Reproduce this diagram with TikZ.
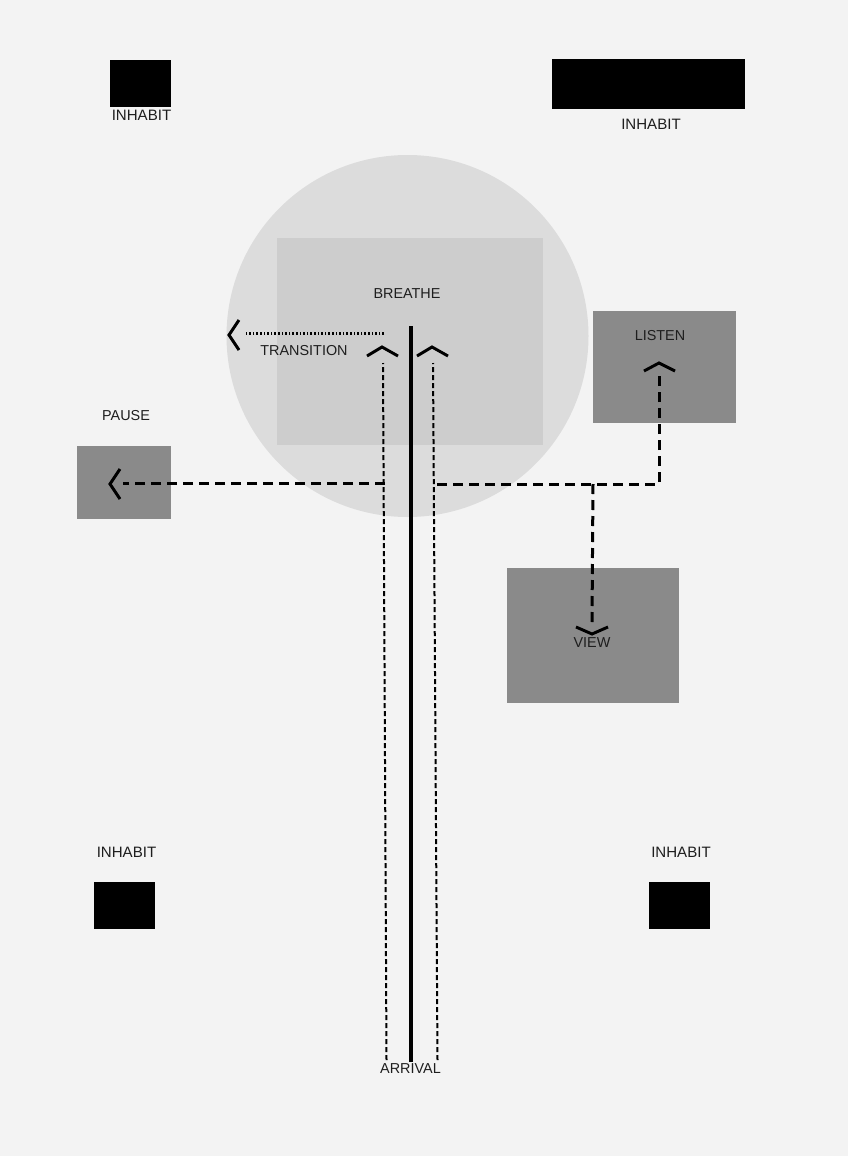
\documentclass[tikz,border=0pt]{standalone}
\usepackage{fontspec}
\setmainfont{Liberation Sans}
\definecolor{paper}{HTML}{F3F3F3}
\definecolor{disc}{HTML}{DCDCDC}
\definecolor{core}{HTML}{CDCDCD}
\definecolor{block}{HTML}{8A8A8A}
\definecolor{ink}{HTML}{1E1E1E}
\begin{document}
\begin{tikzpicture}[x=0.75pt,y=-0.75pt,
  lbl/.style={font=\fontsize{10.8pt}{12pt}\selectfont, text=ink, inner sep=0pt},
  inh/.style={font=\fontsize{11.3pt}{12pt}\selectfont, text=ink, inner sep=0pt},
  blk/.style={fill=black, draw=none, inner sep=0pt},
  gbox/.style={fill=block, draw=none, inner sep=0pt},
  dashline/.style={line width=2.25pt, dash pattern=on 7.5pt off 4.5pt, black},
  thindash/.style={line width=1.5pt, dash pattern=on 3.75pt off 2.25pt, black},
  dotline/.style={line width=1.8pt, dash pattern=on 1.2pt off 1.5pt, black},
  chev/.style={line width=2.2pt, black, line cap=butt, line join=miter},
  solidline/.style={line width=3pt, black}]
\fill[paper] (0,0) rectangle (848,1156);
\useasboundingbox (0,0) rectangle (848,1156);

% big disc and core
\node[circle, fill=disc, draw=none, minimum size=271.5pt, inner sep=0pt] (disc) at (407.5,336) {};
\node[fill=core, draw=none, minimum width=199.5pt, minimum height=155.25pt, inner sep=0pt] (core) at (410,341.5) {};

% black blocks
\node[blk, minimum width=45.75pt, minimum height=35.25pt] (tl) at (140.5,83.5) {};
\node[blk, minimum width=144.75pt, minimum height=37.5pt] (tr) at (648.5,84) {};
\node[blk, minimum width=45.75pt, minimum height=35.25pt] (bl) at (124.5,905.5) {};
\node[blk, minimum width=45.75pt, minimum height=35.25pt] (br) at (679.5,905.5) {};
\node[inh] (tlL) at (141.5,115.5) {INHABIT};
\node[inh] (trL) at (651,124) {INHABIT};
\node[inh] (blL) at (126.5,852) {INHABIT};
\node[inh] (brL) at (681,852) {INHABIT};

% gray blocks
\node[gbox, minimum width=70.5pt, minimum height=54.75pt] (pause) at (124,482.5) {};
\node[gbox, minimum width=107.25pt, minimum height=84pt] (listen) at (664.5,367) {};
\node[gbox, minimum width=129pt, minimum height=101.25pt] (view) at (593,635.5) {};

% labels
\node[lbl] (breathe) at (407,294) {BREATHE};
\node[lbl] (transition) at (304,351) {TRANSITION};
\node[lbl] (pauseL) at (126,416) {PAUSE};
\node[lbl] (listenL) at (660,336) {LISTEN};
\node[lbl] (viewL) at (592,643) {VIEW};
\node[lbl] (arrival) at (410.5,1069) {ARRIVAL};

% coordinates
\coordinate (sTop) at (410.5,326);
\coordinate (sBot) at (410.5,1062);
\coordinate (lTop) at (383,363);
\coordinate (lBot) at (386.5,1060);
\coordinate (rTop) at (433,363);
\coordinate (rBot) at (437.5,1060);
\coordinate (trStart) at (384,333.5);
\coordinate (trEnd) at (244,333.5);
\coordinate (pStart) at (385,483.5);
\coordinate (pEnd) at (123,483.5);
\coordinate (rJoin) at (437,484);
\coordinate (split) at (593,484);
\coordinate (corner) at (659,484);
\coordinate (lsEnd) at (659,373);
\coordinate (vwEnd) at (592,622);

% main arrival line
\draw[solidline] (sBot) -- (sTop);
\draw[thindash] (lBot) -- (lTop);
\draw[thindash] (rBot) -- (rTop);
\draw[chev] (367,356) -- (382,347) -- (398,356);
\draw[chev] (417,356) -- (432,347) -- (448,356);

% transition
\draw[dotline] (trStart) -- (trEnd);
\draw[chev] (239,320) -- (229,335) -- (239,350);

% pause
\draw[dashline] (pStart) -- (pEnd);
\draw[chev] (120,469) -- (110,484) -- (120,499);

% listen and view
\draw[dashline] (rJoin) -- (corner) -- (lsEnd);
\draw[dashline] (split) -- (vwEnd);
\draw[chev] (644,371) -- (659,363) -- (675,371);
\draw[chev] (576,627) -- (592,634) -- (608,627);
\end{tikzpicture}
\end{document}
